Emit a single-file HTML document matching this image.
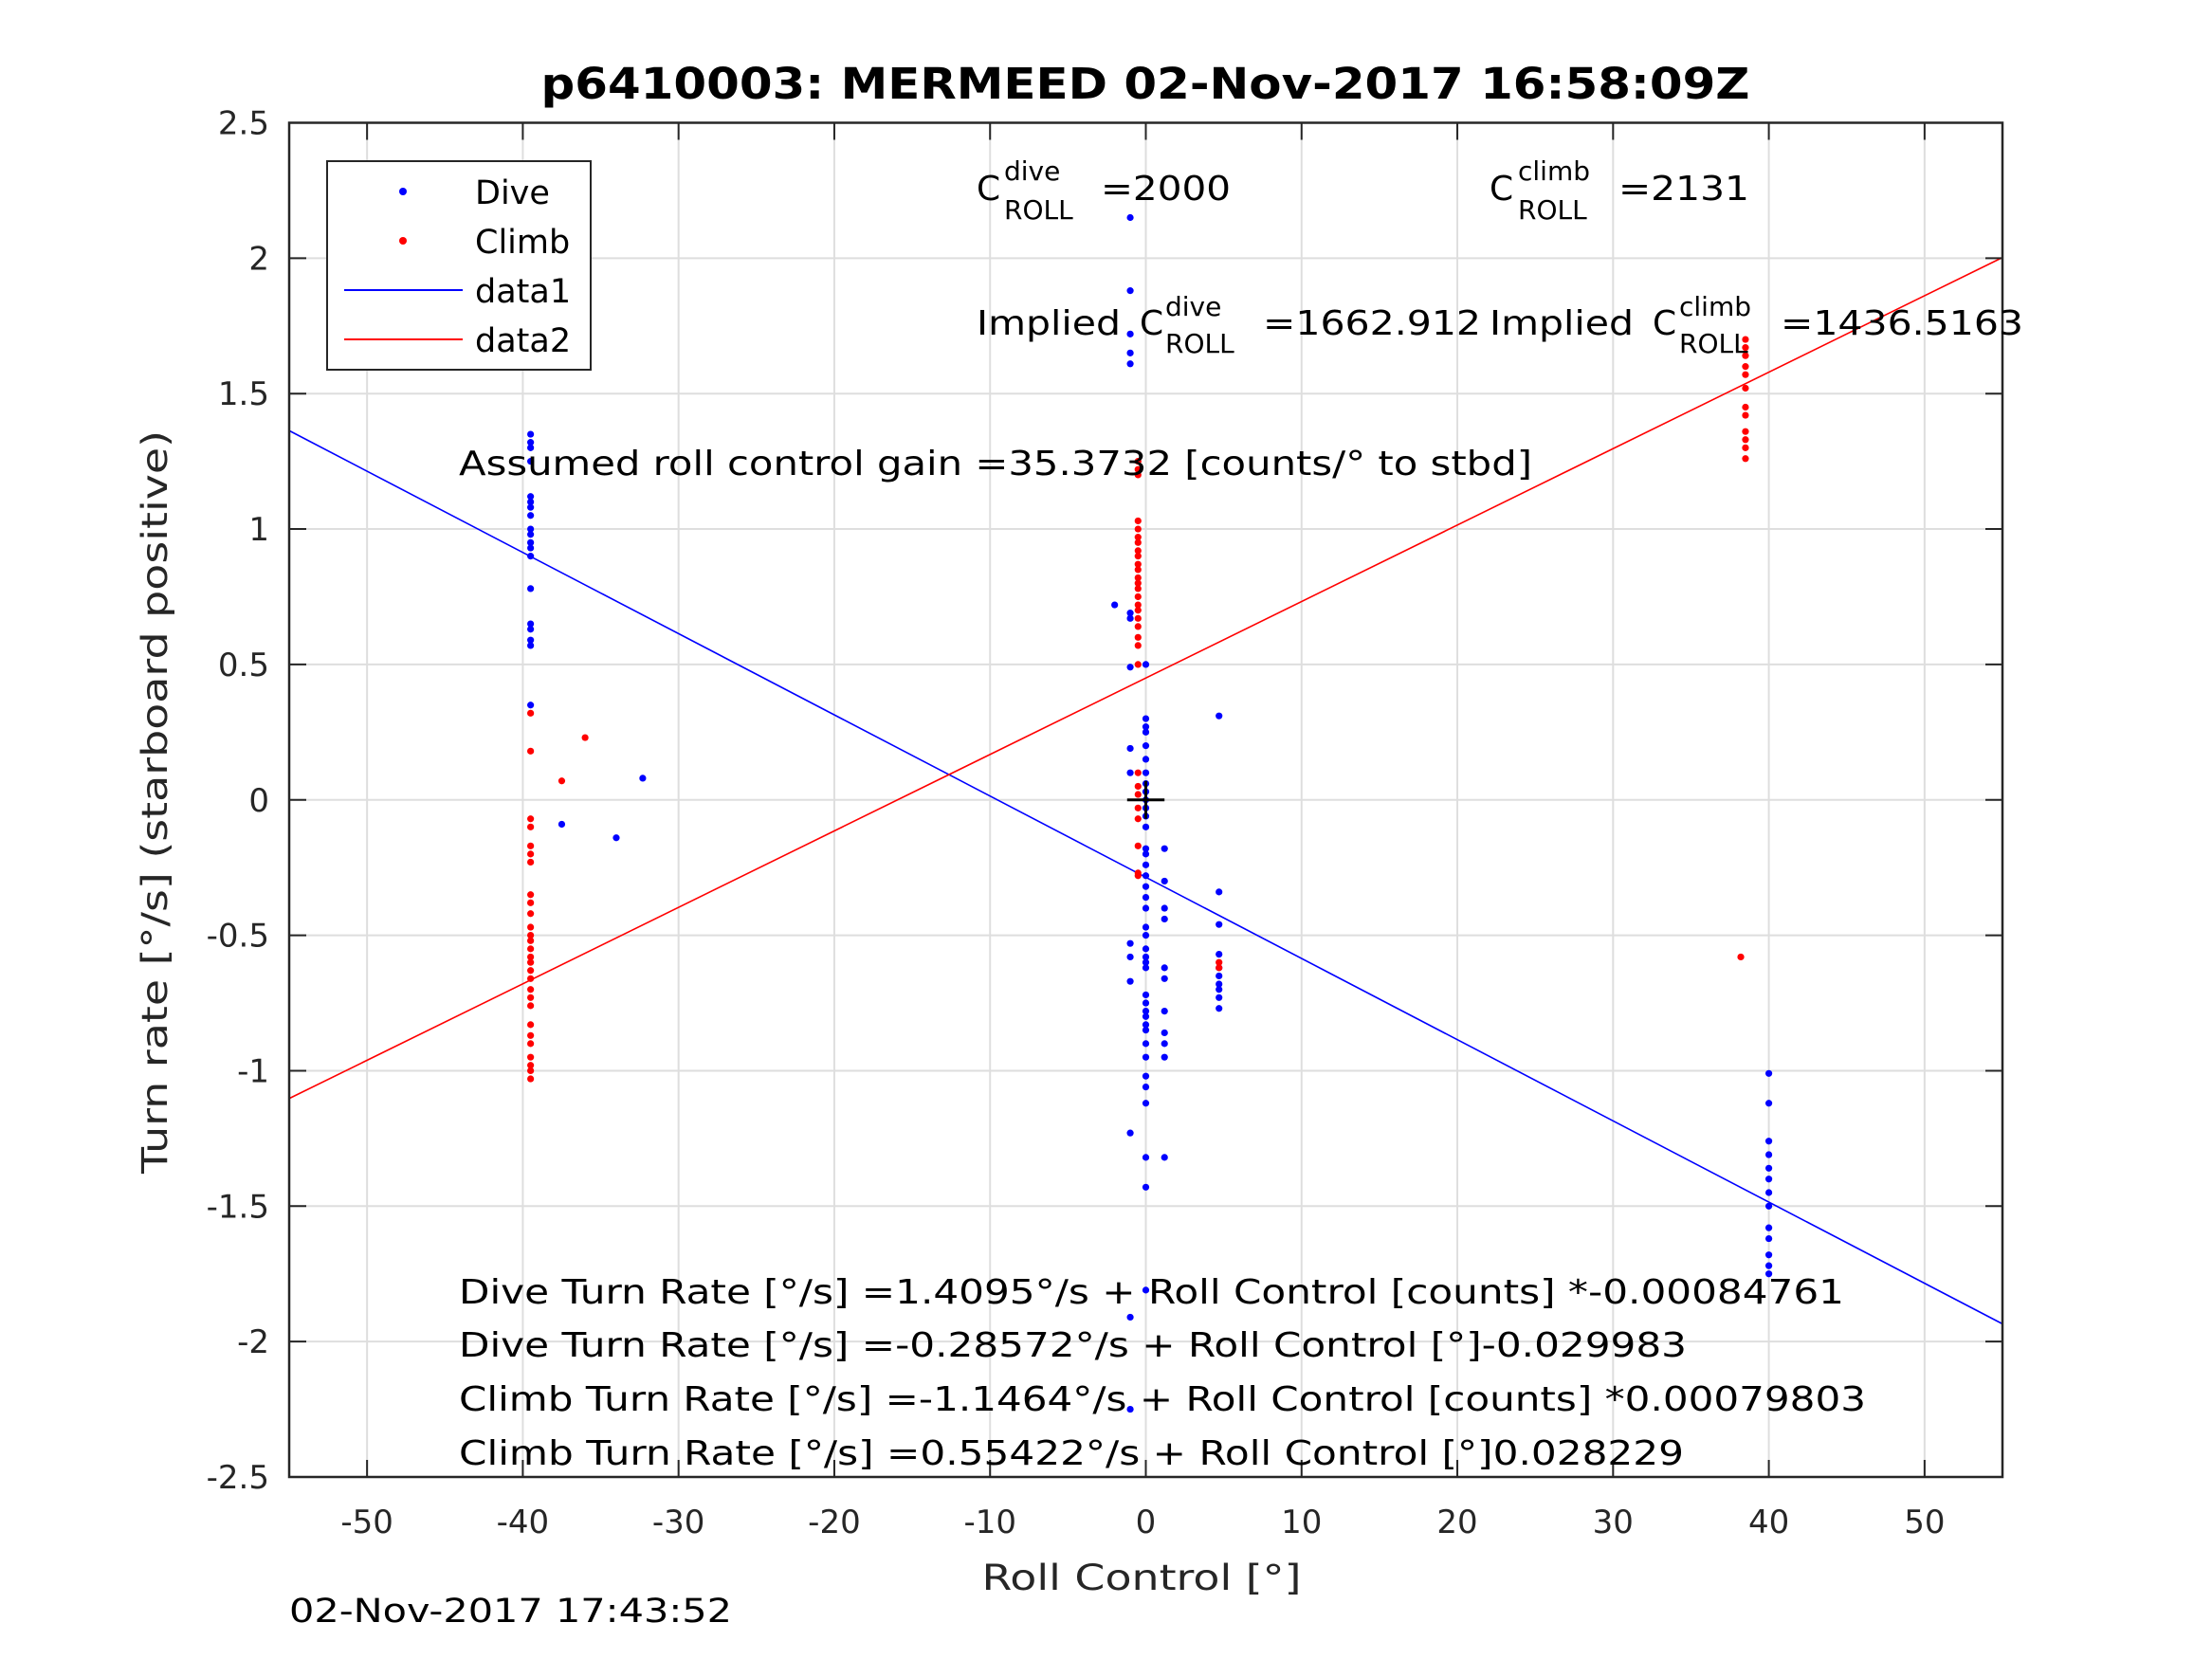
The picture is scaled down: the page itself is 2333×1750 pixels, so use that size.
<!DOCTYPE html>
<html><head><meta charset="utf-8"><style>
html,body{margin:0;padding:0;background:#fff}
svg{display:block}
text{font-family:"DejaVu Sans","Liberation Sans",sans-serif}
</style></head><body>
<svg id="chart" width="2333" height="1750" viewBox="0 0 2333 1750" xmlns="http://www.w3.org/2000/svg">
<rect width="2333" height="1750" fill="#fff"/>
<g id="grid"></g>
<g id="lines"></g>
<g id="pts"></g>
<g id="axes"></g>
<text x="1208" y="104" text-anchor="middle" font-size="45" font-weight="bold" textLength="1275" lengthAdjust="spacingAndGlyphs">p6410003: MERMEED 02-Nov-2017 16:58:09Z</text>
<text x="1204" y="1677" text-anchor="middle" font-size="37" fill="#262626" textLength="337" lengthAdjust="spacingAndGlyphs">Roll Control [°]</text>
<text transform="translate(176,846) rotate(-90)" text-anchor="middle" font-size="37" fill="#262626" textLength="784" lengthAdjust="spacingAndGlyphs">Turn rate [°/s] (starboard positive)</text>
<text x="305" y="1711" font-size="35" textLength="467" lengthAdjust="spacingAndGlyphs">02-Nov-2017 17:43:52</text>

<g font-size="36">
<text x="1030" y="211">C</text><text x="1059" y="190" font-size="28">dive</text><text x="1059" y="231" font-size="28">ROLL</text><text x="1161" y="211" textLength="137" lengthAdjust="spacingAndGlyphs">=2000</text></g>
<g font-size="36">
<text x="1571" y="211">C</text><text x="1601" y="190" font-size="28">climb</text><text x="1601" y="231" font-size="28">ROLL</text><text x="1707" y="211" textLength="138" lengthAdjust="spacingAndGlyphs">=2131</text></g>
<g font-size="36">
<text x="1030" y="353" textLength="152" lengthAdjust="spacingAndGlyphs">Implied</text><text x="1202" y="353">C</text><text x="1229" y="333" font-size="28">dive</text><text x="1229" y="372" font-size="28">ROLL</text><text x="1332" y="353" textLength="230" lengthAdjust="spacingAndGlyphs">=1662.912</text></g>
<g font-size="36">
<text x="1571" y="353" textLength="152" lengthAdjust="spacingAndGlyphs">Implied</text><text x="1743" y="353">C</text><text x="1771" y="333" font-size="28">climb</text><text x="1771" y="372" font-size="28">ROLL</text><text x="1878" y="353" textLength="256" lengthAdjust="spacingAndGlyphs">=1436.5163</text></g>
<text x="484" y="501" font-size="36" textLength="1132" lengthAdjust="spacingAndGlyphs">Assumed roll control gain =35.3732 [counts/° to stbd]</text>
<text x="484" y="1375" font-size="36" textLength="1461" lengthAdjust="spacingAndGlyphs">Dive Turn Rate [°/s] =1.4095°/s + Roll Control [counts] *-0.00084761</text>
<text x="484" y="1431" font-size="36" textLength="1295" lengthAdjust="spacingAndGlyphs">Dive Turn Rate [°/s] =-0.28572°/s + Roll Control [°]-0.029983</text>
<text x="484" y="1488" font-size="36" textLength="1484" lengthAdjust="spacingAndGlyphs">Climb Turn Rate [°/s] =-1.1464°/s + Roll Control [counts] *0.00079803</text>
<text x="484" y="1545" font-size="36" textLength="1292" lengthAdjust="spacingAndGlyphs">Climb Turn Rate [°/s] =0.55422°/s + Roll Control [°]0.028229</text>

<g>
<rect x="345" y="170" width="278" height="220" fill="#fff" stroke="#262626" stroke-width="2"/>
<circle cx="425" cy="202" r="4" fill="#0000ff"/>
<text x="501" y="215" font-size="35">Dive</text>
<circle cx="425" cy="254" r="4" fill="#ff0000"/>
<text x="501" y="267" font-size="35">Climb</text>
<line x1="363" y1="306" x2="488" y2="306" stroke="#0000ff" stroke-width="2"/>
<text x="501" y="319" font-size="35">data1</text>
<line x1="363" y1="358" x2="488" y2="358" stroke="#ff0000" stroke-width="2"/>
<text x="501" y="371" font-size="35">data2</text>
</g>
</svg>
<script>
const xTicks=[-50,-40,-30,-20,-10,0,10,20,30,40,50];
const yTicks=[-2.5,-2,-1.5,-1,-0.5,0,0.5,1,1.5,2,2.5];
const yTickLabels=["-2.5","-2","-1.5","-1","-0.5","0","0.5","1","1.5","2","2.5"];
const diveFit=[-0.28572,-0.029983];
const climbFit=[0.45,0.028229];
const diveX=[-39.5,-39.5,-39.5,-39.5,-39.5,-39.5,-39.5,-39.5,-39.5,-39.5,-39.5,-39.5,-39.5,-39.5,-39.5,-39.5,-39.5,-39.5,-39.5,
-37.5,-34,-32.3,
-1,-1,-1,-1,-1,-1,-1,-1,-1,-1,-1,-1,-1,-1,-1,-1,-2,
0,0,0,0,0,0,0,0,0,0,0,0,0,0,0,0,0,0,0,0,0,0,0,0,0,0,0,0,0,0,0,0,0,0,0,0,0,0,0,0,
1.2,1.2,1.2,1.2,1.2,1.2,1.2,1.2,1.2,1.2,1.2,
4.7,4.7,4.7,4.7,4.7,4.7,4.7,4.7,4.7,4.7,
40,40,40,40,40,40,40,40,40,40,40,40,40];
const diveY=[1.35,1.32,1.3,1.25,1.12,1.1,1.08,1.05,1.0,0.98,0.95,0.93,0.9,0.78,0.65,0.63,0.59,0.57,0.35,
-0.09,-0.14,0.08,
2.15,1.88,1.72,1.65,1.61,0.69,0.67,0.49,0.19,0.1,-0.53,-0.58,-0.67,-1.23,-1.91,-2.25,0.72,
0.5,0.3,0.27,0.25,0.2,0.15,0.1,0.06,0.03,0.0,-0.03,-0.06,-0.1,-0.18,-0.2,-0.24,-0.28,-0.32,-0.36,-0.4,-0.47,-0.5,-0.55,-0.58,-0.6,-0.62,-0.72,-0.75,-0.78,-0.8,-0.83,-0.85,-0.9,-0.95,-1.02,-1.06,-1.12,-1.32,-1.43,-1.81,
-0.18,-0.3,-0.4,-0.44,-0.62,-0.66,-0.78,-0.86,-0.9,-0.95,-1.32,
0.31,-0.34,-0.46,-0.57,-0.62,-0.65,-0.68,-0.7,-0.73,-0.77,
-1.01,-1.12,-1.26,-1.31,-1.36,-1.4,-1.45,-1.5,-1.58,-1.62,-1.68,-1.72,-1.75];
const climbX=[-39.5,-39.5,-39.5,-39.5,-39.5,-39.5,-39.5,-39.5,-39.5,-39.5,-39.5,-39.5,-39.5,-39.5,-39.5,-39.5,-39.5,-39.5,-39.5,-39.5,-39.5,-39.5,-39.5,-39.5,-39.5,-39.5,-39.5,-39.5,
-37.5,-36,
-0.5,-0.5,-0.5,-0.5,-0.5,-0.5,-0.5,-0.5,-0.5,-0.5,-0.5,-0.5,-0.5,-0.5,-0.5,-0.5,-0.5,-0.5,-0.5,-0.5,-0.5,-0.5,-0.5,-0.5,-0.5,-0.5,-0.5,-0.5,-0.5,-0.5,
4.7,4.7,
38.5,38.5,38.5,38.5,38.5,38.5,38.5,38.5,38.5,38.5,38.5,38.5,38.2];
const climbY=[0.32,0.18,-0.07,-0.1,-0.17,-0.2,-0.23,-0.35,-0.38,-0.42,-0.47,-0.5,-0.52,-0.55,-0.58,-0.6,-0.63,-0.66,-0.7,-0.73,-0.76,-0.83,-0.87,-0.9,-0.95,-0.98,-1.0,-1.03,
0.07,0.23,
1.25,1.22,1.2,1.03,1.0,0.97,0.95,0.92,0.9,0.87,0.85,0.82,0.8,0.78,0.75,0.72,0.7,0.67,0.64,0.6,0.57,0.5,0.1,0.05,0.02,-0.03,-0.07,-0.17,-0.27,-0.28,
-0.6,-0.62,
1.7,1.67,1.64,1.6,1.57,1.52,1.45,1.42,1.36,1.33,1.3,1.26,-0.58];

const L=305,R=2112,T=129.5,B=1558,XMIN=-55,XMAX=55,YMIN=-2.5,YMAX=2.5;
function sx(v){return L+(v-XMIN)/(XMAX-XMIN)*(R-L);}
function sy(v){return B-(v-YMIN)/(YMAX-YMIN)*(B-T);}
const NS="http://www.w3.org/2000/svg";
function mk(tag,attrs,parent){const e=document.createElementNS(NS,tag);for(const k in attrs)e.setAttribute(k,attrs[k]);parent.appendChild(e);return e;}
const grid=document.getElementById('grid'),axes=document.getElementById('axes'),lines=document.getElementById('lines'),pts=document.getElementById('pts');
xTicks.forEach(v=>{
  const g=mk('line',{x1:sx(v),x2:sx(v),y1:T,y2:B,stroke:'#dedede','stroke-width':2},grid);
  
  
  const t1=mk('line',{x1:sx(v),x2:sx(v),y1:B,y2:B-18,stroke:'#262626','stroke-width':2},axes);
  
  
  const t2=mk('line',{x1:sx(v),x2:sx(v),y1:T,y2:T+18,stroke:'#262626','stroke-width':2},axes);
  
  
  const lb=mk('text',{x:sx(v),y:1617,'text-anchor':'middle','font-size':34,fill:'#262626'},axes);
  lb.textContent=String(v);
  
  
});
yTicks.forEach((v,i)=>{
  const g=mk('line',{x1:L,x2:R,y1:sy(v),y2:sy(v),stroke:'#dedede','stroke-width':2},grid);
  
  
  const t1=mk('line',{x1:L,x2:L+18,y1:sy(v),y2:sy(v),stroke:'#262626','stroke-width':2},axes);
  
  
  const t2=mk('line',{x1:R,x2:R-18,y1:sy(v),y2:sy(v),stroke:'#262626','stroke-width':2},axes);
  
  
  const lb=mk('text',{x:284,y:sy(v)+12,'text-anchor':'end','font-size':34,fill:'#262626'},axes);
  lb.textContent=yTickLabels[i];
  
  
});
const box=mk('rect',{x:L,y:T,width:R-L,height:B-T,fill:'none',stroke:'#262626','stroke-width':2.5},axes);


const l1=mk('line',{x1:sx(XMIN),y1:sy(diveFit[0]+diveFit[1]*XMIN),x2:sx(XMAX),y2:sy(diveFit[0]+diveFit[1]*XMAX),stroke:'#0000ff','stroke-width':1.6},lines);


const l2=mk('line',{x1:sx(XMIN),y1:sy(climbFit[0]+climbFit[1]*XMIN),x2:sx(XMAX),y2:sy(climbFit[0]+climbFit[1]*XMAX),stroke:'#ff0000','stroke-width':1.6},lines);


diveX.forEach((x,i)=>{
  const c=mk('circle',{cx:sx(x),cy:sy(diveY[i]),r:3.6,fill:'#0000ff'},pts);
  
  
});
climbX.forEach((x,i)=>{
  const c=mk('circle',{cx:sx(x),cy:sy(climbY[i]),r:3.6,fill:'#ff0000'},pts);
  
  
});
const ch=mk('line',{x1:sx(-1.2),x2:sx(1.2),y1:sy(0),y2:sy(0),stroke:'#000','stroke-width':3},pts);


const cv=mk('line',{x1:sx(0),x2:sx(0),y1:sy(0.07),y2:sy(-0.07),stroke:'#000','stroke-width':3},pts);


</script>
</body></html>
